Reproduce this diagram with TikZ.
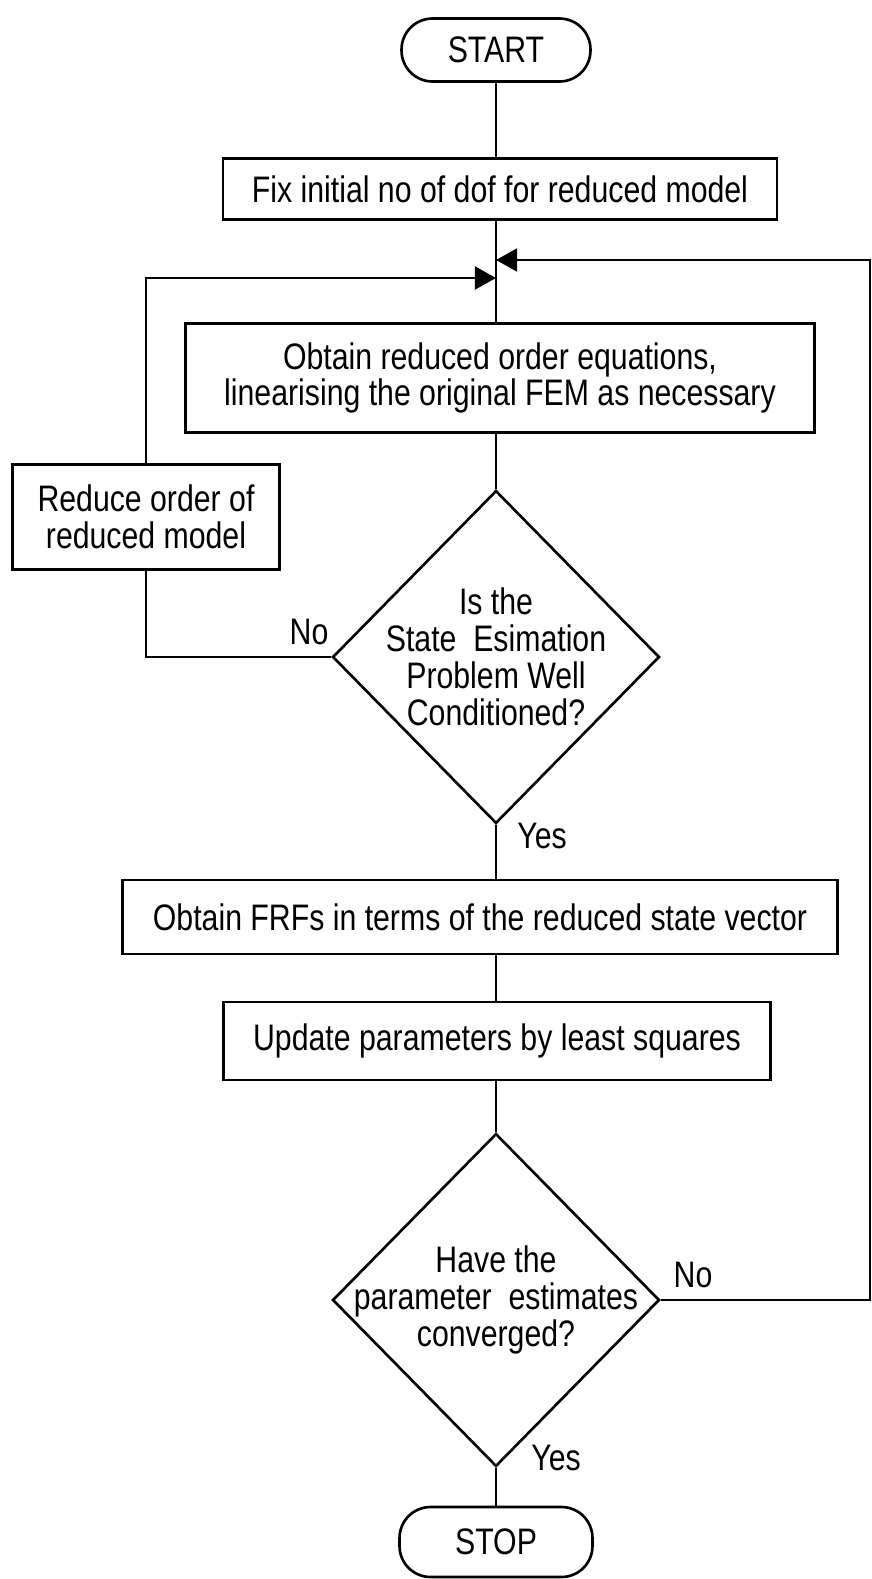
\documentclass[tikz,border=0pt]{standalone}
\usepackage{fontspec}
\setmainfont{Liberation Sans}[FakeStretch=0.82]
\usetikzlibrary{arrows.meta, shapes.geometric, positioning}

\begin{document}
\begin{tikzpicture}[x=0.02cm, y=-0.02cm, line width=1.5pt,
  every node/.style={font=\fontsize{21pt}{21pt}\selectfont},
  terminal/.style={draw, rounded corners=0.62cm, inner sep=0pt},
  process/.style={draw, inner sep=0pt, align=center},
  decision/.style={draw, diamond, inner sep=0pt, minimum width=6.54cm, minimum height=6.66cm},
  flowarrow/.style={-{Triangle[length=12pt, width=13pt]}}]

\useasboundingbox (0,0) rectangle (872,1579);

% Terminals
\node[terminal, minimum width=3.78cm, minimum height=1.26cm] (start) at (496,50) {START};
\node[terminal, minimum width=3.86cm, minimum height=1.4cm] (stop) at (496,1542) {STOP};

% Process boxes
\node[process, minimum width=11.08cm, minimum height=1.22cm] (fixdof) at (500,189)
  {Fix initial no of dof for reduced model};
\node[process, minimum width=12.58cm, minimum height=2.18cm] (reducedeq) at (500,378)
  {Obtain reduced order equations,\\linearising the original FEM as necessary};
\node[process, minimum width=5.34cm, minimum height=2.1cm] (reduceorder) at (146,517)
  {Reduce order of\\reduced model};
\node[process, minimum width=14.3cm, minimum height=1.48cm] (frfs) at (480,917)
  {Obtain FRFs in terms of the reduced state vector};
\node[process, minimum width=10.94cm, minimum height=1.56cm] (lsq) at (497,1041)
  {Update parameters by least squares};

% Decisions
\node[decision] (wellcond) at (496,657) {};
\node[align=center] (wellcondtext) at (wellcond.center) {Is the\\State~~Esimation\\Problem Well\\Conditioned?};
\node[decision] (converged) at (496,1300) {};
\node[align=center] (convergedtext) at (converged.center) {Have the\\parameter~~estimates\\converged?};

% Merge points on the main line
\coordinate (mergeright) at (496,260);
\coordinate (mergeleft) at (496,278);
\coordinate (rightedge) at (870,260);

% Main line
\draw (start.south) -- (start.south |- fixdof.north);
\draw (start.south |- fixdof.south) -- (start.south |- reducedeq.north);
\draw (start.south |- reducedeq.south) -- (wellcond.north);
\draw (wellcond.south) -- (wellcond.south |- frfs.north);
\draw (wellcond.south |- frfs.south) -- (wellcond.south |- lsq.north);
\draw (wellcond.south |- lsq.south) -- (converged.north);
\draw (converged.south) -- (stop.north);

% Left loop
\draw (wellcond.west) -| (reduceorder.south);
\draw[flowarrow] (reduceorder.north) |- (mergeleft);

% Right loop
\draw[flowarrow] (converged.east) -| (rightedge) -- (mergeright);

% Labels
\node (nowell) at (309,632) {No};
\node (yeswell) at (542,836) {Yes};
\node (noconv) at (693,1275) {No};
\node (yesconv) at (556,1458) {Yes};

\end{tikzpicture}
\end{document}
